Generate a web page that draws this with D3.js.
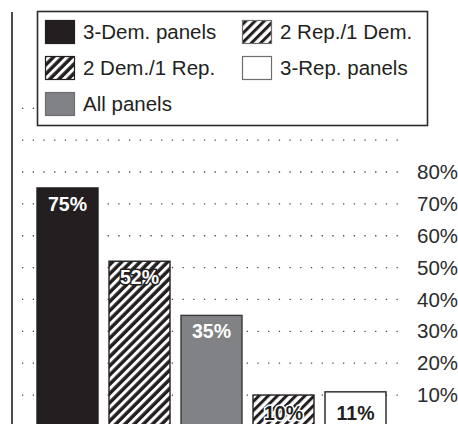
<!DOCTYPE html>
<html>
<head>
<meta charset="utf-8">
<script src="https://cdn.jsdelivr.net/npm/d3@7"></script>
<style>
  html, body { margin: 0; padding: 0; background: #fff; }
  svg { display: block; font-family: "Liberation Sans", Arial, sans-serif; }
</style>
</head>
<body>
<svg id="chart" width="458" height="424"></svg>
<script>
// Share of panels, by panel composition
const categories = ["3-Dem. panels", "2 Dem./1 Rep.", "All panels", "2 Rep./1 Dem.", "3-Rep. panels"];
const values = [75, 52, 35, 10, 11];
const valueLabels = ["75%", "52%", "35%", "10%", "11%"];
const tickValues = [10, 20, 30, 40, 50, 60, 70, 80, 90, 100];
const tickLabels = ["10%", "20%", "30%", "40%", "50%", "60%", "70%", "80%", "", ""];
// legend layout: two columns
const legendCol1 = ["3-Dem. panels", "2 Dem./1 Rep.", "All panels"];
const legendCol2 = ["2 Rep./1 Dem.", "3-Rep. panels"];

const svg = d3.select("#chart");
const defs = svg.append("defs");

function stripes(id, bg, fg, w) {
  const p = defs.append("pattern")
    .attr("id", id)
    .attr("patternUnits", "userSpaceOnUse")
    .attr("width", 6.5).attr("height", 6.5)
    .attr("patternTransform", "rotate(45)");
  p.append("rect").attr("width", 6.5).attr("height", 6.5).attr("fill", bg);
  p.append("rect").attr("x", 0).attr("width", w).attr("height", 6.5).attr("fill", fg);
}
stripes("hatchDark", "#231f20", "#fff", 3.0);
stripes("hatchLight", "#fff", "#231f20", 3.0);

const style = {
  "3-Dem. panels": { fill: "#231f20", stroke: "#231f20", text: "#fff", halo: "none" },
  "2 Dem./1 Rep.": { fill: "url(#hatchDark)", stroke: "#231f20", text: "#fff", halo: "#231f20" },
  "All panels":    { fill: "#808285", stroke: "#3a3a3a", text: "#fff", halo: "none" },
  "2 Rep./1 Dem.": { fill: "url(#hatchLight)", stroke: "#231f20", text: "#231f20", halo: "#fff" },
  "3-Rep. panels": { fill: "#fff", stroke: "#231f20", text: "#231f20", halo: "none" }
};

const x = d3.scaleBand()
  .domain(categories)
  .range([31.5, 391.5])
  .paddingInner(11 / 72)
  .paddingOuter(5.5 / 72);

const y = d3.scaleLinear().domain([0, 100]).range([426.9, 108.3]);

// dotted gridlines
svg.append("g")
  .selectAll("line")
  .data(tickValues)
  .join("line")
  .attr("x1", 22).attr("x2", 406)
  .attr("y1", d => y(d)).attr("y2", d => y(d))
  .attr("stroke", "#4a4a4a")
  .attr("stroke-width", 1.3)
  .attr("stroke-dasharray", "1.3 9.4");

// value axis labels on the right
svg.append("g")
  .selectAll("text")
  .data(tickValues.map((v, i) => ({ v, label: tickLabels[i] })).filter(d => d.label))
  .join("text")
  .attr("x", 417)
  .attr("y", d => y(d.v))
  .attr("dy", "0.35em")
  .attr("font-size", 20.5)
  .attr("fill", "#2b2b2b")
  .text(d => d.label);

// left rule
svg.append("line")
  .attr("x1", 12).attr("x2", 12)
  .attr("y1", 12).attr("y2", 424)
  .attr("stroke", "#231f20").attr("stroke-width", 1.6);

// bars
const data = categories.map((c, i) => ({ c, v: values[i], label: valueLabels[i] }));
svg.append("g")
  .selectAll("rect")
  .data(data)
  .join("rect")
  .attr("x", d => x(d.c))
  .attr("y", d => y(d.v))
  .attr("width", x.bandwidth())
  .attr("height", d => y(0) - y(d.v))
  .attr("fill", d => style[d.c].fill)
  .attr("stroke", d => style[d.c].stroke)
  .attr("stroke-width", 1.4);

// bar value labels: inside the top of tall bars, near the base of short ones
svg.append("g")
  .selectAll("text")
  .data(data)
  .join("text")
  .attr("x", d => x(d.c) + x.bandwidth() / 2)
  .attr("y", d => d.v < 15 ? y(0) - 7 : y(d.v) + 23)
  .attr("text-anchor", "middle")
  .attr("font-size", 19.5)
  .attr("font-weight", "bold")
  .attr("fill", d => style[d.c].text)
  .attr("stroke", d => style[d.c].halo)
  .attr("stroke-width", 3)
  .attr("stroke-linejoin", "round")
  .attr("paint-order", "stroke")
  .text(d => d.label);

// legend
const legend = svg.append("g");
legend.append("rect")
  .attr("x", 37.5).attr("y", 11.5)
  .attr("width", 390).attr("height", 114)
  .attr("fill", "#fff")
  .attr("stroke", "#2b2b2b").attr("stroke-width", 1.6);

const legendItems = [
  ...legendCol1.map((c, i) => ({ c, col: 0, row: i })),
  ...legendCol2.map((c, i) => ({ c, col: 1, row: i }))
];
const colX = [45, 242];
const rowY = [32, 68, 104];
const item = legend.selectAll("g.item")
  .data(legendItems)
  .join("g")
  .attr("class", "item")
  .attr("transform", d => `translate(${colX[d.col]},${rowY[d.row]})`);
item.append("rect")
  .attr("x", 0.5).attr("y", -11.5)
  .attr("width", 29).attr("height", 23)
  .attr("fill", d => style[d.c].fill)
  .attr("stroke", d => d.c === "3-Dem. panels" || d.c === "2 Dem./1 Rep." ? "#231f20" : "#6d6e71")
  .attr("stroke-width", 1.2);
item.append("text")
  .attr("x", 38)
  .attr("y", 0)
  .attr("dy", "0.35em")
  .attr("font-size", 20.5)
  .attr("fill", "#231f20")
  .text(d => d.c);
</script>
</body>
</html>
